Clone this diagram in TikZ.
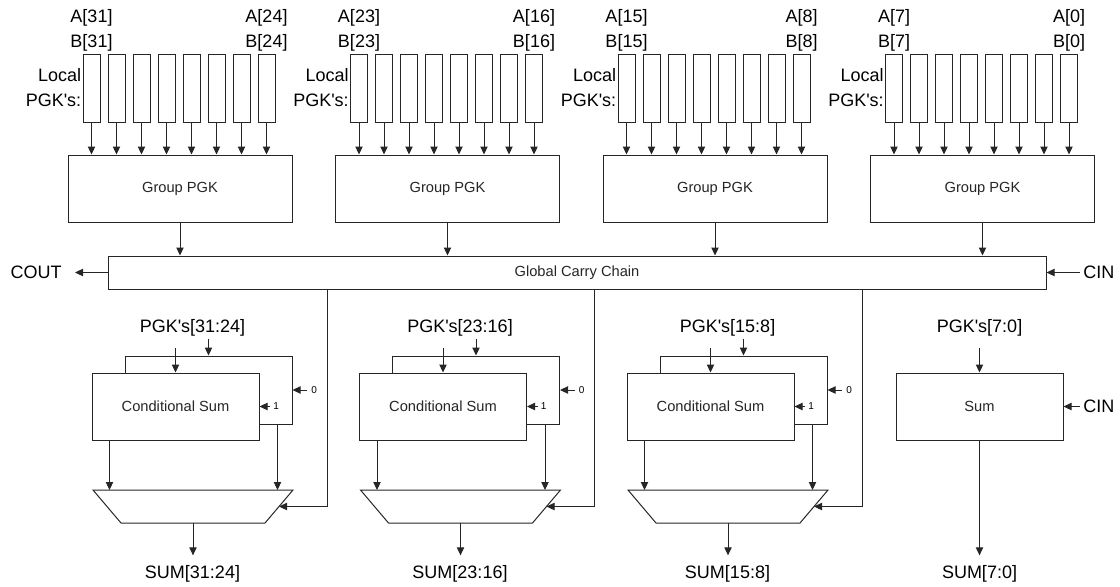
\documentclass[tikz,border=0pt]{standalone}
\usepackage{fontspec}
\setmainfont{Liberation Sans}
\usetikzlibrary{arrows.meta}

\def\px{0.75pt} % one pixel of the drawing

\tikzstyle{line1}=[black!85, line width=0.75pt, line join=miter]
\tikzstyle{arr1}=[line1, -{Triangle[length=6pt,width=5.5pt]}]
\tikzstyle{box1}=[line1, draw, fill=white, inner sep=0pt, font=\fontsize{11}{13}\selectfont]
\tikzstyle{txt1}=[inner sep=0pt, font=\fontsize{13.5}{18.75}\selectfont]
\tikzstyle{txt0}=[inner sep=0pt, font=\fontsize{7.5}{9}\selectfont]

\begin{document}
\begin{tikzpicture}[x=\px, y=-\px]
	
	\useasboundingbox (0,0) rectangle (1120,586);
	
	% Local and group PGK's, one group of 8 bits every 267.5 px
	\foreach \k in {0,...,3} {
		\pgfmathsetmacro\dx{267.5*\k}
		\pgfmathtruncatemacro\hi{31-8*\k}
		\pgfmathtruncatemacro\lo{24-8*\k}
		\node[box1, minimum width={224*\px}, minimum height={67*\px}] (grp\k) at (180+\dx,188.5) {Group PGK};
		\foreach \j in {0,...,7} {
			\node[box1, minimum width={17*\px}, minimum height={68*\px}] (loc\k-\j) at (91.5+\dx+25*\j,88) {};
			\draw[arr1] (loc\k-\j.south) -- (loc\k-\j.south |- grp\k.north);
		}
		\node[txt1, align=center, anchor=south, inner ysep={2*\px}] (ab\k-0) at (loc\k-0.north) {A[\hi]\\B[\hi]};
		\node[txt1, align=center, anchor=south, inner ysep={2*\px}] (ab\k-7) at (loc\k-7.north) {A[\lo]\\B[\lo]};
		\node[txt1, align=right, anchor=east, inner xsep={1*\px}] (lpgk\k) at (loc\k-0.west) {Local\\PGK\textquotesingle s:};
	}
	
	% Global carry chain
	\node[box1, minimum width={938*\px}, minimum height={33*\px}] (chain) at (577,272.5) {Global Carry Chain};
	\foreach \k in {0,...,3} {
		\draw[arr1] (grp\k.south) -- (grp\k.south |- chain.north);
	}
	\node[txt1, anchor=east, inner xsep={13*\px}] (cout) at (75,272.5) {COUT};
	\draw[arr1] (chain.west) -- (cout.east);
	\node[txt1, anchor=west, inner xsep={3*\px}] (cin) at (1080,272.5) {CIN};
	\draw[arr1] (cin.west) -- (chain.east);
	
	% Conditional sums: back box for carry 0, front box for carry 1, then the mux
	\foreach \k in {0,1,2} {
		\pgfmathsetmacro\dx{267.5*\k}
		\pgfmathtruncatemacro\hi{31-8*\k}
		\pgfmathtruncatemacro\lo{24-8*\k}
		\node[txt1, inner ysep={2*\px}] (cpgk\k) at (192.5+\dx,328) {PGK\textquotesingle s[\hi:\lo]};
		\node[box1, minimum width={167*\px}, minimum height={68*\px}] (cs\k-0) at (208.5+\dx,390) {};
		\node[box1, minimum width={167*\px}, minimum height={67*\px}] (cs\k-1) at (175.5+\dx,406.5) {Conditional Sum};
		\draw[arr1] (cpgk\k.south -| cs\k-0.north) -- (cs\k-0.north);
		\draw[arr1, shorten <={9*\px}] (cpgk\k.south -| cs\k-1.north) -- (cs\k-1.north);
		\node[txt0, anchor=west, inner xsep={4*\px}] (cin\k-0) at (307+\dx,390) {0};
		\draw[arr1] (cin\k-0.west) -- (cin\k-0.west -| cs\k-0.east);
		\node[txt0, anchor=west, inner xsep={3*\px}] (cin\k-1) at (270+\dx,406.5) {1};
		\draw[arr1] (cin\k-1.west) -- (cs\k-1.east);
		% mux: wide side on top
		\coordinate (mux\k-n) at (193+\dx,490);
		\coordinate (mux\k-s) at (193+\dx,523);
		\coordinate (mux\k-e) at (279+\dx,506.5);
		\draw[line1] (93+\dx,490) -- (293+\dx,490) -- (265+\dx,523) -- (121+\dx,523) -- cycle;
		\draw[arr1] ([xshift={18*\px}]cs\k-1.south west) -- ([xshift={18*\px}]cs\k-1.south west |- mux\k-n);
		\draw[arr1] ([xshift={-15*\px}]cs\k-0.south east) -- ([xshift={-15*\px}]cs\k-0.south east |- mux\k-n);
		\coordinate (tap\k) at (327+\dx,300);
		\draw[arr1] (chain.south -| tap\k) |- (mux\k-e);
		\node[txt1, inner ysep={10*\px}] (sum\k) at (192.5+\dx,574) {SUM[\hi:\lo]};
		\draw[arr1] (mux\k-s) -- (mux\k-s |- sum\k.north);
	}
	
	% Lowest group needs no mux
	\node[txt1, inner ysep={2*\px}] (cpgk3) at (979.5,328) {PGK\textquotesingle s[7:0]};
	\node[box1, minimum width={167*\px}, minimum height={67*\px}] (cs3) at (979.5,406.5) {Sum};
	\draw[arr1, shorten <={9*\px}] (cpgk3.south) -- (cs3.north);
	\node[txt1, anchor=west, inner xsep={3*\px}] (cin3) at (1080,406.5) {CIN};
	\draw[arr1] (cin3.west) -- (cs3.east);
	\node[txt1, inner ysep={10*\px}] (sum3) at (979.5,574) {SUM[7:0]};
	\draw[arr1] (cs3.south) -- (sum3.north);
	
\end{tikzpicture}
\end{document}
